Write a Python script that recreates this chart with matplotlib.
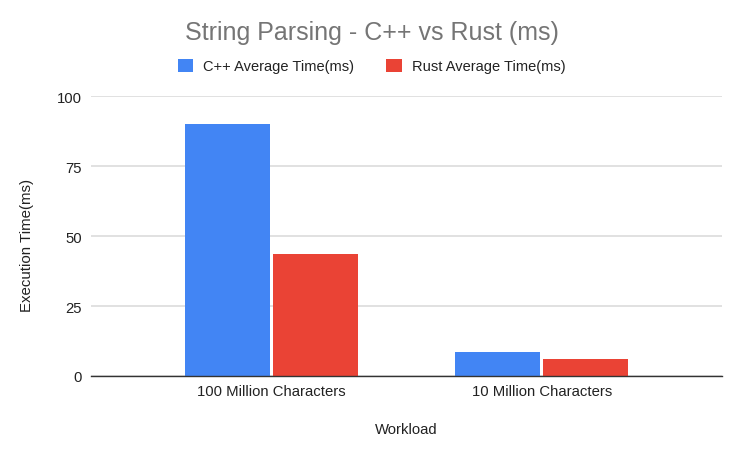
import numpy as np
import matplotlib
matplotlib.use("Agg")
import matplotlib.pyplot as plt

# データ
workloads = ["100 Million Characters", "10 Million Characters"]
cpp_times = [90.2, 8.6]
rust_times = [43.6, 5.9]
series_names = ["C++ Average Time(ms)", "Rust Average Time(ms)"]
yticks = [0, 25, 50, 75, 100]

plt.rcParams['font.family'] = ['Liberation Sans', 'DejaVu Sans']

fig = plt.figure(figsize=(7.43, 4.56), dpi=100)
ax = fig.add_axes([91 / 743, 1 - 377 / 456, (722 - 91) / 743, (377 - 97.3) / 456])

x = np.arange(len(workloads))
w = 0.313
gap = 0.006
ax.bar(x - w / 2 - gap, cpp_times, w, color="#4285f4", label=series_names[0], zorder=3)
ax.bar(x + w / 2 + gap, rust_times, w, color="#ea4335", label=series_names[1], zorder=3)

ax.set_xlim(-0.667, 1.667)
ax.set_ylim(0, 100)
ax.set_yticks(yticks)
ax.set_xticks(x)
ax.set_xticklabels(workloads)
ax.tick_params(axis="both", length=0, labelsize=10.7, colors="#222222")
ax.tick_params(axis="y", pad=6.5)
ax.tick_params(axis="x", pad=6)

# グリッドと軸線
ax.grid(axis="y", color="#d9d9d9", linewidth=1.1, zorder=0)
for s in ["top", "right", "left"]:
    ax.spines[s].set_visible(False)
ax.spines["bottom"].set_color("#333333")
ax.spines["bottom"].set_linewidth(1.0)
ax.spines["bottom"].set_zorder(4)

ax.set_xlabel("Workload", fontsize=10.7, color="#222222")
ax.set_ylabel("Execution Time(ms)", fontsize=10.8, color="#222222")
ax.xaxis.set_label_coords(0.5, -(430 - 377) / 279.7)
ax.xaxis.label.set_va("center")
ax.yaxis.set_label_coords(-(91 - 27) / 631, (377 - 245) / 279.7)
ax.yaxis.label.set_va("center")

fig.suptitle("String Parsing - C++ vs Rust (ms)", x=0.5, y=1 - 33 / 456, va="center",
             fontsize=18, color="#757575")
fig.legend(loc="center", bbox_to_anchor=(0.5, 1 - 67 / 456), ncol=2, frameon=False,
           fontsize=10.5, handlelength=1.05, handleheight=1.05, handletextpad=0.7,
           columnspacing=2.2, labelcolor="#222222")

fig.savefig("out.png", dpi=100)
